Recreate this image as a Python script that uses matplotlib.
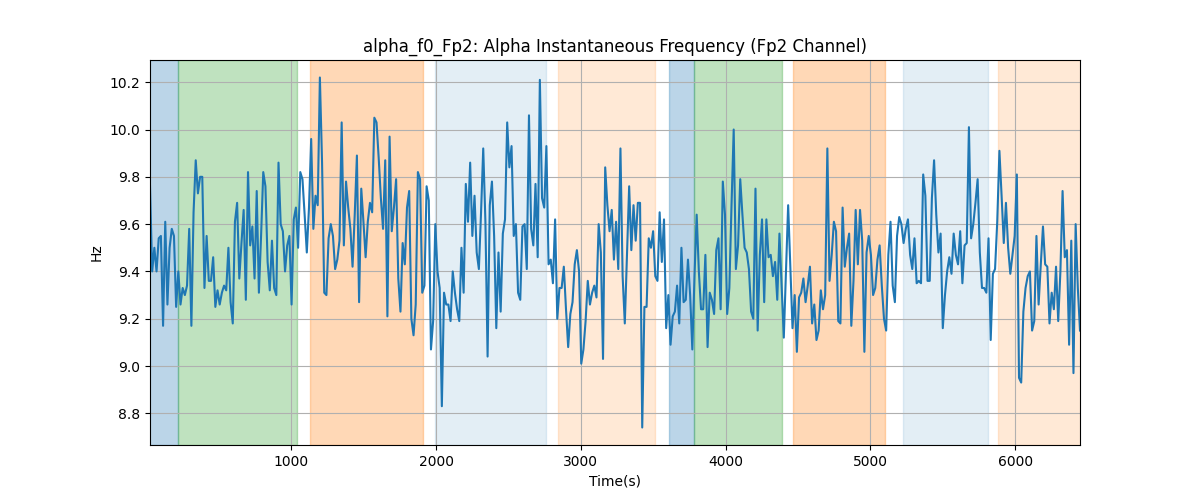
import numpy as np
import matplotlib
matplotlib.use("Agg")
import matplotlib.pyplot as plt

# ── Data ──────────────────────────────────────────────────────────────

T_START = 25
T_END = 6447

# alpha peak frequency (Hz), one value per analysis window
alpha_f0 = [
    9.76, 9.40, 9.50, 9.40, 9.54, 9.55, 9.17, 9.61, 9.26, 9.50,
    9.58, 9.55, 9.25, 9.40, 9.26, 9.33, 9.30, 9.34, 9.58, 9.17,
    9.65, 9.87, 9.73, 9.80, 9.80, 9.33, 9.55, 9.36, 9.36, 9.46,
    9.25, 9.32, 9.26, 9.31, 9.34, 9.32, 9.50, 9.27, 9.18, 9.61,
    9.69, 9.37, 9.52, 9.66, 9.28, 9.82,
    9.51, 9.59, 9.37, 9.74, 9.31, 9.55, 9.82, 9.76, 9.44, 9.32,
    9.53, 9.33, 9.30, 9.86, 9.60, 9.57, 9.40, 9.51, 9.55, 9.26,
    9.62, 9.67, 9.50, 9.82, 9.79, 9.64, 9.48, 9.67, 9.96, 9.58,
    9.72, 9.68, 10.22, 9.86, 9.31, 9.30, 9.54, 9.60, 9.55, 9.41,
    9.45, 9.53, 10.03, 9.51, 9.78, 9.67, 9.58, 9.42, 9.64,
    9.89, 9.27, 9.75, 9.61, 9.46, 9.61, 9.69, 9.65, 10.05, 10.03,
    9.88, 9.71, 9.58, 9.87, 9.21, 9.97, 9.57, 9.67, 9.79, 9.37,
    9.23, 9.52, 9.43, 9.67, 9.74, 9.20, 9.13, 9.26, 9.82, 9.79,
    9.31, 9.34, 9.76, 9.70, 9.07, 9.19, 9.60, 9.40, 9.33, 8.83,
    9.31, 9.26, 9.26, 9.19, 9.40, 9.31, 9.24, 9.19,
    9.50, 9.31, 9.77, 9.61, 9.86, 9.55, 9.72, 9.48, 9.41, 9.65,
    9.92, 9.61, 9.04, 9.68, 9.78, 9.55, 9.16, 9.48, 9.23, 9.56,
    9.62, 10.03, 9.84, 9.93, 9.55, 9.60, 9.31, 9.28, 9.59, 9.60,
    9.41, 10.06, 9.58, 9.51, 9.77, 9.46, 10.21, 9.71, 9.67, 9.93,
    9.43, 9.45, 9.35, 9.62, 9.20, 9.33, 9.33, 9.42,
    9.24, 9.08, 9.22, 9.27, 9.43, 9.49, 9.40, 9.01, 9.07, 9.19,
    9.36, 9.26, 9.31, 9.34, 9.29, 9.60, 9.48, 9.03, 9.84, 9.68,
    9.57, 9.66, 9.45, 9.61, 9.41, 9.92, 9.38, 9.18, 9.47, 9.76,
    9.49, 9.68, 9.53, 9.69, 9.69, 8.74, 9.25, 9.25, 9.54, 9.50,
    9.57, 9.38, 9.36, 9.65, 9.44, 9.62, 9.16, 9.30,
    9.09, 9.21, 9.23, 9.34, 9.18, 9.50, 9.27, 9.28, 9.45, 9.30,
    9.07, 9.38, 9.64, 9.40, 9.24, 9.24, 9.47, 9.08, 9.31, 9.28,
    9.22, 9.49, 9.54, 9.24, 9.78, 9.64, 9.22, 9.33, 9.68, 10.00,
    9.41, 9.51, 9.79, 9.64, 9.50, 9.48, 9.41, 9.23, 9.20, 9.75,
    9.15, 9.47, 9.62, 9.27, 9.62, 9.46, 9.47, 9.38,
    9.44, 9.28, 9.56, 9.34, 9.12, 9.40, 9.68, 9.42, 9.16, 9.30,
    9.06, 9.29, 9.31, 9.37, 9.27, 9.34, 9.42, 9.18, 9.26, 9.11,
    9.15, 9.32, 9.24, 9.30, 9.92, 9.36, 9.47, 9.61, 9.57, 9.19,
    9.18, 9.67, 9.42, 9.50, 9.56, 9.17, 9.36, 9.66, 9.43, 9.66,
    9.53, 9.06, 9.48, 9.55, 9.47, 9.30, 9.33, 9.45,
    9.51, 9.34, 9.20, 9.15, 9.47, 9.61, 9.34, 9.27, 9.55, 9.63,
    9.60, 9.52, 9.58, 9.62, 9.47, 9.41, 9.54, 9.35, 9.36, 9.35,
    9.81, 9.72, 9.36, 9.36, 9.71, 9.87, 9.64, 9.48, 9.56, 9.16,
    9.30, 9.40, 9.46, 9.39, 9.56, 9.47, 9.43, 9.57, 9.35, 9.51,
    9.52, 10.01, 9.54, 9.60, 9.69, 9.79, 9.48, 9.33,
    9.33, 9.31, 9.54, 9.11, 9.39, 9.41, 9.61, 9.91, 9.72, 9.52,
    9.69, 9.50, 9.39, 9.47, 9.55, 9.81, 8.95, 8.93, 9.23, 9.33,
    9.38, 9.40, 9.15, 9.19, 9.55, 9.26, 9.43, 9.59, 9.43, 9.42,
    9.18, 9.31, 9.24, 9.42, 9.19, 9.40, 9.74, 9.46, 9.49, 9.09,
    9.53, 8.97, 9.60, 9.33, 9.15,
]

# task segments: (start, end, color, alpha)
seg_start = [0, 218, 1131, 1991, 2840, 3607, 3780, 4465, 5226, 5883]
seg_end = [218, 1040, 1911, 2761, 3510, 3780, 4389, 5099, 5811, 6500]
seg_color = ["tab:blue", "tab:green", "tab:orange", "tab:blue", "tab:orange",
             "tab:blue", "tab:green", "tab:orange", "tab:blue", "tab:orange"]
seg_alpha = [0.3, 0.3, 0.3, 0.12, 0.17, 0.3, 0.3, 0.3, 0.12, 0.17]


# ── Plot ──────────────────────────────────────────────────────────────

t = np.linspace(T_START, T_END, len(alpha_f0))

fig, ax = plt.subplots(figsize=(12, 5), dpi=100)

for s, e, c, a in zip(seg_start, seg_end, seg_color, seg_alpha):
    ax.axvspan(s, e, color=c, alpha=a)

ax.plot(t, alpha_f0, color="tab:blue", linewidth=1.5)

ax.set_xlim(T_START, T_END)
ax.set_title("alpha_f0_Fp2: Alpha Instantaneous Frequency (Fp2 Channel)")
ax.set_xlabel("Time(s)")
ax.set_ylabel("Hz")
ax.grid(True)

fig.savefig("out.png", dpi=100)
